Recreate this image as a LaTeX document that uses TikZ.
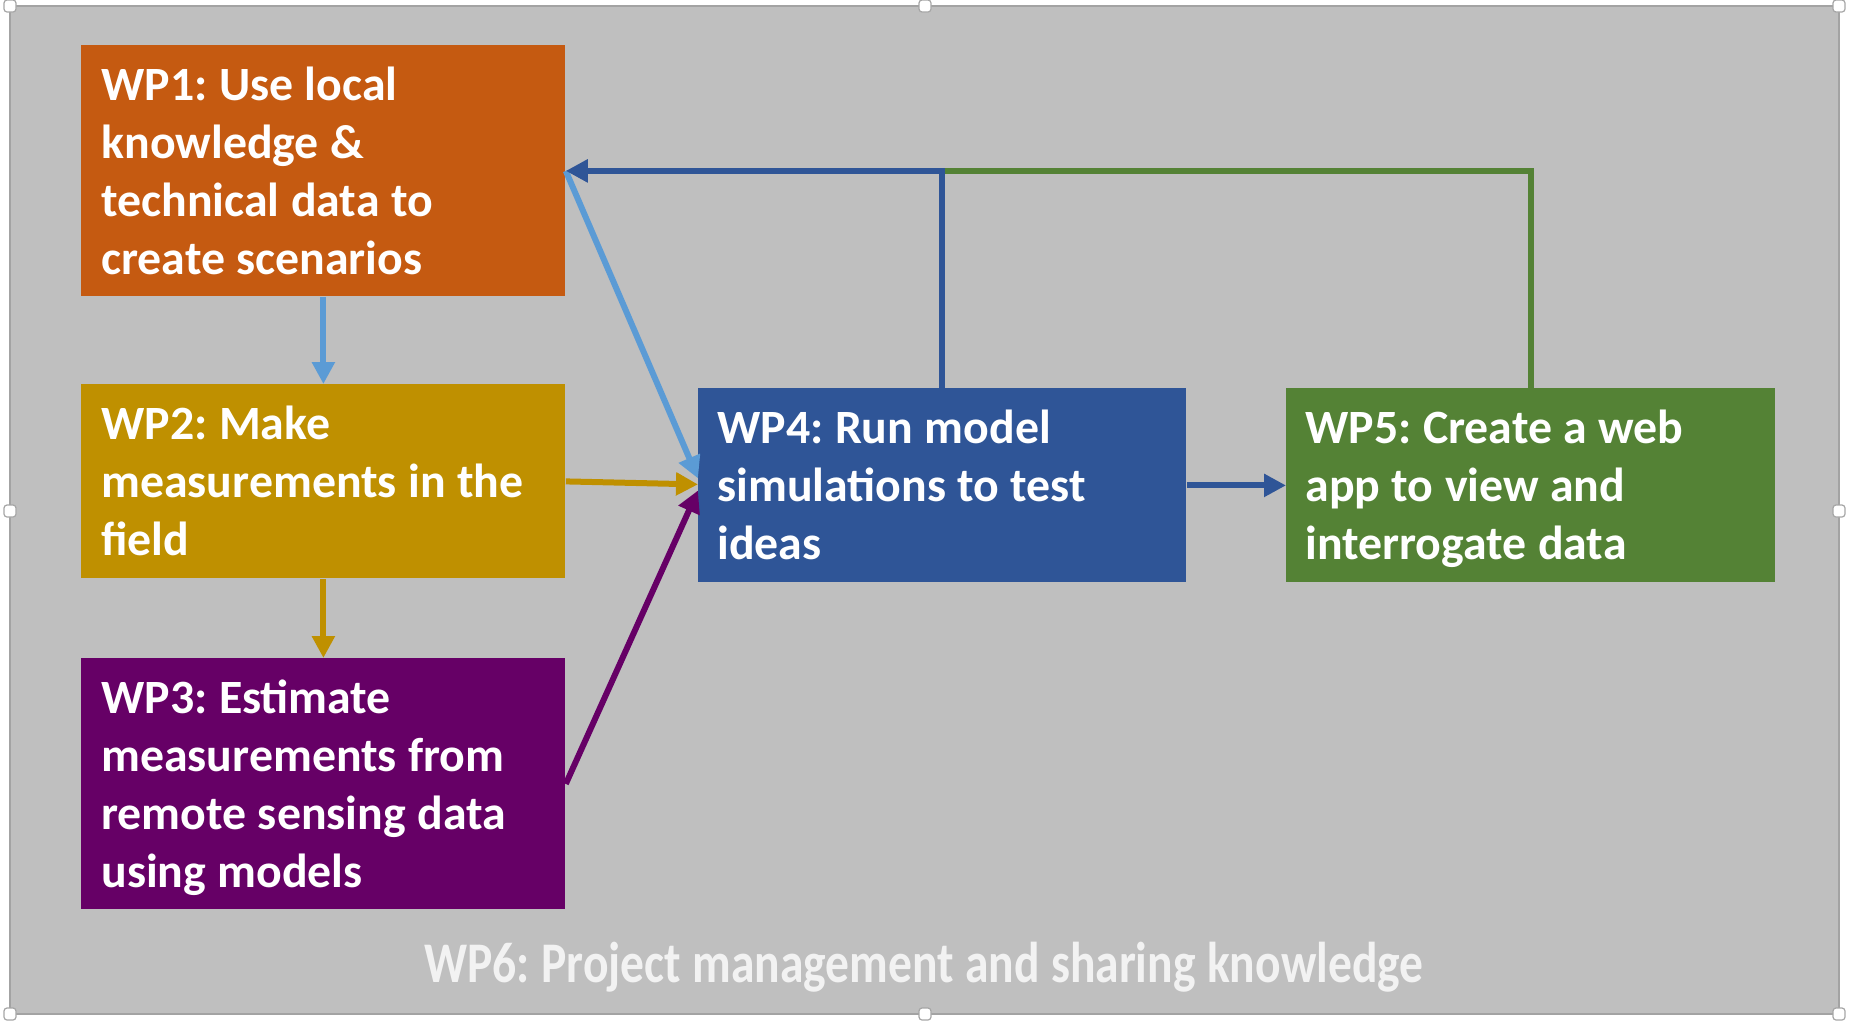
\documentclass[tikz,border=0pt]{standalone}
\usepackage{fontspec}
\setmainfont{Carlito}
\usetikzlibrary{arrows.meta,calc}
\definecolor{bggray}{HTML}{BFBFBF}
\definecolor{bgborder}{HTML}{A3A3A3}
\definecolor{wporange}{HTML}{C55A11}
\definecolor{wpgold}{HTML}{BF9000}
\definecolor{wppurple}{HTML}{660066}
\definecolor{wpblue}{HTML}{2F5597}
\definecolor{wpgreen}{HTML}{548235}
\definecolor{lightblue}{HTML}{5B9BD5}
\definecolor{wpsixcol}{HTML}{F2F2F2}
\newcommand{\wpfont}{\fontsize{23.9}{29}\selectfont\bfseries}
\newcommand{\tightsp}{\frenchspacing\spaceskip=0.24em\relax\xspaceskip=0.24em\relax}
\begin{document}
\begin{tikzpicture}[x=0.5pt,y=-0.5pt,
  wpbox/.style={rectangle, draw=none, inner sep=0, anchor=north west, minimum width=242pt},
  wptext/.style={text=white, font=\wpfont, inner sep=0, text width=240pt, align=left, anchor=base west, execute at begin node=\tightsp},
  conn/.style={line width=3pt, -{Triangle[length=11pt,width=11pt]}},
  plainline/.style={line width=3pt},
  handle/.style={fill=white, draw=gray!70, line width=0.6pt, rounded corners=1.5pt}]
\useasboundingbox (0,0) rectangle (1865,1024);
% background panel
\fill[bggray] (10,6) rectangle (1839,1014);
\draw[bgborder, line width=1pt] (10,6) rectangle (1839,1014);
% boxes
\node[wpbox, fill=wporange, minimum height=125.5pt] (wp1) at (81,45) {};
\node[wpbox, fill=wpgold, minimum height=97pt] (wp2) at (81,384) {};
\node[wpbox, fill=wppurple, minimum height=125.5pt] (wp3) at (81,658) {};
\node[wpbox, fill=wpblue, minimum width=244pt, minimum height=97pt] (wp4) at (698,388) {};
\node[wpbox, fill=wpgreen, minimum width=244.5pt, minimum height=97pt] (wp5) at (1286,388) {};
% texts
\node[wptext] (wp1t) at ($(wp1.north west)+(20,55)$) {WP1: Use local\\knowledge \&\\technical data to\\create scenarios};
\node[wptext] (wp2t) at ($(wp2.north west)+(20,55)$) {WP2: Make\\measurements in the\\field};
\node[wptext] (wp3t) at ($(wp3.north west)+(20,55)$) {WP3: Estimate\\measurements from\\remote sensing data\\using models};
\node[wptext] (wp4t) at ($(wp4.north west)+(19,55)$) {WP4: Run model\\simulations to test\\ideas};
\node[wptext] (wp5t) at ($(wp5.north west)+(19,55)$) {WP5: Create a web\\app to view and\\interrogate data};
\node[anchor=base, text=wpsixcol, font=\fontsize{28.75}{34}\selectfont\bfseries, inner sep=0, execute at begin node=\tightsp] (wp6) at (924,982) {\resizebox{499.5pt}{\height}{WP6: Project management and sharing knowledge}};
% connectors
\coordinate (fb) at (wp4.north |- wp1.east);
\draw[conn, lightblue] (wp1.south) -- (wp2.north);
\draw[conn, wpgold] (wp2.south) -- (wp3.north);
\draw[conn, lightblue] (wp1.east) -- ($(wp4.west)+(0,-7)$);
\draw[conn, wpgold] (wp2.east) -- ($(wp4.west)+(0,-1)$);
\draw[conn, wppurple] (wp3.east) -- ($(wp4.west)+(0,5)$);
\draw[plainline, wpgreen] (wp5.north) |- (fb);
\draw[conn, wpblue] (wp4.north) |- (wp1.east);
\draw[conn, wpblue] (wp4.east) -- (wp5.west);
% selection handles
\foreach \hx/\hy in {10/6, 925/6, 1839/6, 10/511, 1839/511, 10/1014, 925/1014, 1839/1014}
  \draw[handle] (\hx-6,\hy-6) rectangle (\hx+6,\hy+6);
\end{tikzpicture}
\end{document}
